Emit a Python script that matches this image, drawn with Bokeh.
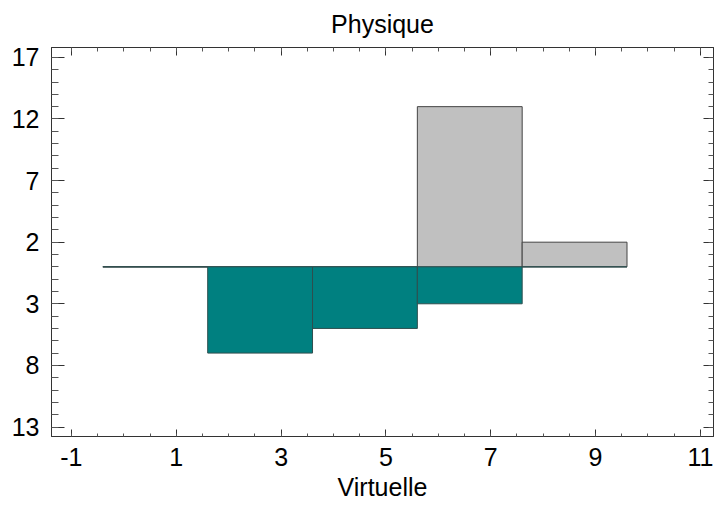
from bokeh.plotting import figure
from bokeh.models import LinearAxis, FixedTicker, Range1d, CustomJSTickFormatter
from bokeh.embed import file_html
from bokeh.resources import INLINE

edges = [-0.4, 1.6, 3.6, 5.6, 7.6, 9.6]
physique = [0, 0, 0, 13, 2]
virtuelle = [0, 7, 5, 3, 0]
y_ticks = [-13, -8, -3, 2, 7, 12, 17]
x_ticks = [-1, 1, 3, 5, 7, 9, 11]

FONT = "Liberation Sans"

p = figure(width=715, height=506, output_backend="svg", toolbar_location=None,
           x_range=Range1d(-1.38, 11.25), y_range=Range1d(-13.77, 17.8),
           min_border_left=51, min_border_right=2, min_border_top=47, min_border_bottom=70,
           title="Physique")
p.title.align = "center"
p.title.vertical_align = "top"
p.title.text_font = FONT
p.title.text_font_size = "25px"
p.title.text_font_style = "normal"
p.title.text_color = "black"
p.title.standoff = 16
p.grid.visible = False
p.outline_line_color = "#333333"
p.background_fill_color = "white"

left = [edges[i] for i in range(len(physique))]
right = [edges[i + 1] for i in range(len(physique))]
p.quad(left=left, right=right, bottom=[0] * len(physique), top=physique,
       fill_color="#C0C0C0", line_color="#444444", line_width=1)
p.quad(left=left, right=right, top=[0] * len(virtuelle), bottom=[-v for v in virtuelle],
       fill_color="#008080", line_color="#2F4F4F", line_width=1)

xt = FixedTicker(ticks=x_ticks, minor_ticks=[x / 2 for x in range(-4, 24)])
yt = FixedTicker(ticks=y_ticks, minor_ticks=list(range(-14, 19)))

def style(ax, major_in, minor_in):
    ax.major_tick_in = major_in
    ax.major_tick_out = 0
    ax.minor_tick_in = minor_in
    ax.minor_tick_out = 0
    ax.axis_line_color = "#333333"
    ax.major_tick_line_color = "#333333"
    ax.minor_tick_line_color = "#555555"
    ax.major_label_text_font = FONT
    ax.major_label_text_font_size = "25px"
    ax.major_label_text_color = "black"
    ax.axis_label_text_font = FONT
    ax.axis_label_text_font_size = "25px"
    ax.axis_label_text_font_style = "normal"
    ax.axis_label_text_color = "black"

xa = p.xaxis[0]
xa.ticker = xt
style(xa, 7, 3)
xa.axis_label = "Virtuelle"
xa.major_label_standoff = 11
xa.axis_label_standoff = 4
xa.major_label_overrides = {t: str(t) for t in x_ticks}

ya = p.yaxis[0]
ya.ticker = yt
style(ya, 13, 7)
ya.major_label_standoff = 12
ya.major_label_overrides = {t: str(abs(t)) for t in y_ticks}

blank = CustomJSTickFormatter(code="return '';")

top_ax = LinearAxis(ticker=xt, formatter=blank)
style(top_ax, 8, 4)
top_ax.major_label_standoff = 0
p.add_layout(top_ax, "above")

right_ax = LinearAxis(ticker=yt, formatter=blank)
style(right_ax, 10, 5)
right_ax.major_label_standoff = 0
p.add_layout(right_ax, "right")

open("out.html", "w").write(file_html(p, INLINE))
